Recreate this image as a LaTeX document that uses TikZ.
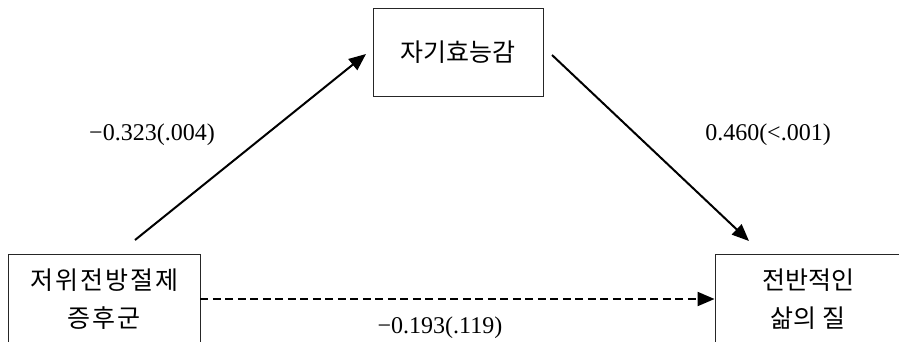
\documentclass[tikz,border=0pt]{standalone}
\usepackage{fontspec}
\setmainfont{Liberation Serif}
\newfontfamily\krfont{Noto Sans CJK KR}
\newfontfamily\krwide[LetterSpace=8]{Noto Sans CJK KR}
\usetikzlibrary{arrows.meta}
\begin{document}
\begin{tikzpicture}[x=1pt,y=-1pt,
  box/.style={draw=black!85, line width=0.9pt, inner sep=0pt},
  lab/.style={font=\fontsize{24}{28}\selectfont, inner sep=0pt},
  krt/.style={font=\krfont\fontsize{25}{38}\selectfont, align=center},
  krw/.style={font=\krwide\fontsize{25}{38}\selectfont, align=center},
  arr/.style={line width=2pt, -{Triangle[length=17pt,width=14pt]}},
  dasharr/.style={line width=2pt, dash pattern=on 8pt off 4.5pt, -{Triangle[length=17pt,width=14pt]}}]
\useasboundingbox (0,0) rectangle (899,341);
\clip (0,0) rectangle (899,341);
\node[box, krt, minimum width=170pt, minimum height=88pt] (m) at (458,52) {자기효능감};
\node[box, krw, minimum width=192pt, minimum height=90pt] (l) at (104,299) {저위전방절제\\증후군};
\node[box, krt, minimum width=186pt, minimum height=90pt] (r) at (808,299) {전반적인\\삶의 질};
\coordinate (a1s) at (135,240);
\coordinate (a1e) at (366,54);
\coordinate (a2s) at (552,55);
\coordinate (a2e) at (749,241);
\draw[arr] (a1s) -- (a1e);
\draw[arr] (a2s) -- (a2e);
\draw[dasharr] (l.east) -- (r.west);
\node[lab] (la) at (152,135) {−0.323(.004)};
\node[lab] (lb) at (768,135) {0.460(<.001)};
\node[lab] (lc) at (440,328) {−0.193(.119)};
\end{tikzpicture}
\end{document}
